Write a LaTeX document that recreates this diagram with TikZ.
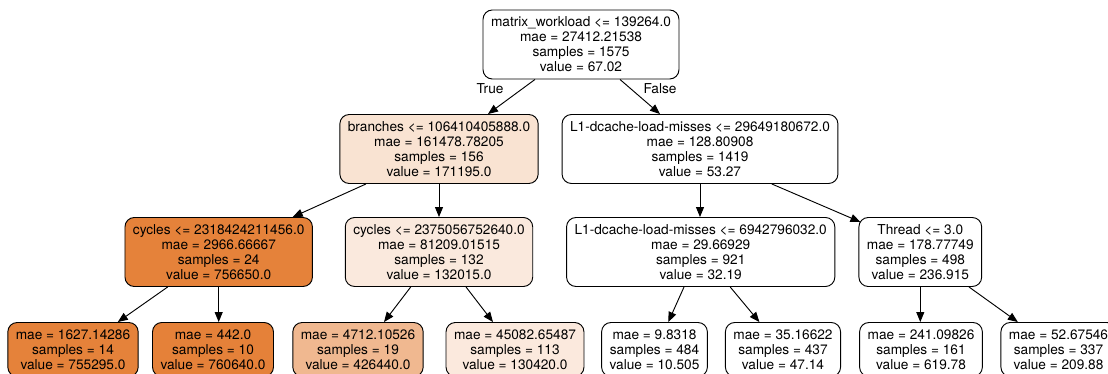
\documentclass[tikz,border=0pt]{standalone}
\usepackage{fontspec}
\setmainfont{TeX Gyre Heros}
\usetikzlibrary{arrows.meta}
\definecolor{maxorange}{RGB}{229,129,57}

\begin{document}
\begin{tikzpicture}[%
	x=0.75pt, y=-0.75pt,
	every node/.style = {font=\fontsize{10.25}{11.25}\selectfont, inner xsep=6pt, inner ysep=0pt},
	split/.style = {shape=rectangle, rounded corners=7pt, draw, align=center, fill=white,
	  line width=0.7pt, minimum height=51.75pt},
	leaf/.style = {split, minimum height=40.5pt},
	link/.style = {-{Triangle[length=7.5pt,width=6pt]}, line width=0.7pt}
	]
  \useasboundingbox (0,0) rectangle (1108,374);
  \clip (0,0) rectangle (1108,374);
  % splits
  \node [split] (c0) at (581,44.5) {matrix\_workload <= 139264.0\\mae = 27412.21538\\samples = 1575\\value = 67.02};
  \node [split, fill=maxorange!22.5] (c1) at (439,149) {branches <= 106410405888.0\\mae = 161478.78205\\samples = 156\\value = 171195.0};
  \node [split] (c8) at (700,149) {L1-dcache-load-misses <= 29649180672.0\\mae = 128.80908\\samples = 1419\\value = 53.27};
  \node [split, fill=maxorange!99.5] (c2) at (218.7,252) {cycles <= 2318424211456.0\\mae = 2966.66667\\samples = 24\\value = 756650.0};
  \node [split, fill=maxorange!17.4] (c5) at (439,252) {cycles <= 2375056752640.0\\mae = 81209.01515\\samples = 132\\value = 132015.0};
  \node [split] (c9) at (700.7,252) {L1-dcache-load-misses <= 6942796032.0\\mae = 29.66929\\samples = 921\\value = 32.19};
  \node [split] (c12) at (920.3,252) {Thread <= 3.0\\mae = 178.77749\\samples = 498\\value = 236.915};
  % leaves
  \node [leaf, fill=maxorange!99.3] (c3) at (73,349.5) {mae = 1627.14286\\samples = 14\\value = 755295.0};
  \node [leaf, fill=maxorange] (c4) at (213,349.5) {mae = 442.0\\samples = 10\\value = 760640.0};
  \node [leaf, fill=maxorange!56.1] (c6) at (358,349.5) {mae = 4712.10526\\samples = 19\\value = 426440.0};
  \node [leaf, fill=maxorange!17.1] (c7) at (515,349.5) {mae = 45082.65487\\samples = 113\\value = 130420.0};
  \node [leaf] (c10) at (654.5,349.5) {mae = 9.8318\\samples = 484\\value = 10.505};
  \node [leaf] (c11) at (783,349.5) {mae = 35.16622\\samples = 437\\value = 47.14};
  \node [leaf] (c13) at (921,349.5) {mae = 241.09826\\samples = 161\\value = 619.78};
  \node [leaf] (c14) at (1058.5,349.5) {mae = 52.67546\\samples = 337\\value = 209.88};
  % edges
  \node (t0) at (490,89) {True};
  \node (f0) at (660,89) {False};
  \draw [link] ([xshift=-34.5pt]c0.south) -- ([xshift=36.75pt]c1.north);
  \draw [link] ([xshift=29.25pt]c0.south) -- ([xshift=-30pt]c8.north);
  \draw [link] ([xshift=-54.75pt]c1.south) -- ([xshift=55.5pt]c2.north);
  \draw [link] (c1.south) -- (c5.north);
  \draw [link] (c8.south) -- (c8.south |- c9.north);
  \draw [link] ([xshift=53.85pt]c8.south) -- ([xshift=1.5pt,yshift=-3.75pt]c12.north west);
  \draw [link] ([xshift=-38.25pt]c2.south) -- ([xshift=33.6pt]c3.north);
  \draw [link] (c2.south) -- (c2.south |- c4.north);
  \draw [link] ([xshift=-21.2pt]c5.south) -- ([xshift=19.5pt]c6.north);
  \draw [link] ([xshift=20.25pt]c5.south) -- ([xshift=-16.5pt]c7.north);
  \draw [link] ([xshift=-12.5pt]c9.south) -- ([xshift=10.35pt]c10.north);
  \draw [link] ([xshift=22.1pt]c9.south) -- ([xshift=-17.7pt]c11.north);
  \draw [link] (c12.south) -- (c12.south |- c13.north);
  \draw [link] ([xshift=36.5pt]c12.south) -- ([xshift=-30.5pt]c14.north);
\end{tikzpicture}
\end{document}
